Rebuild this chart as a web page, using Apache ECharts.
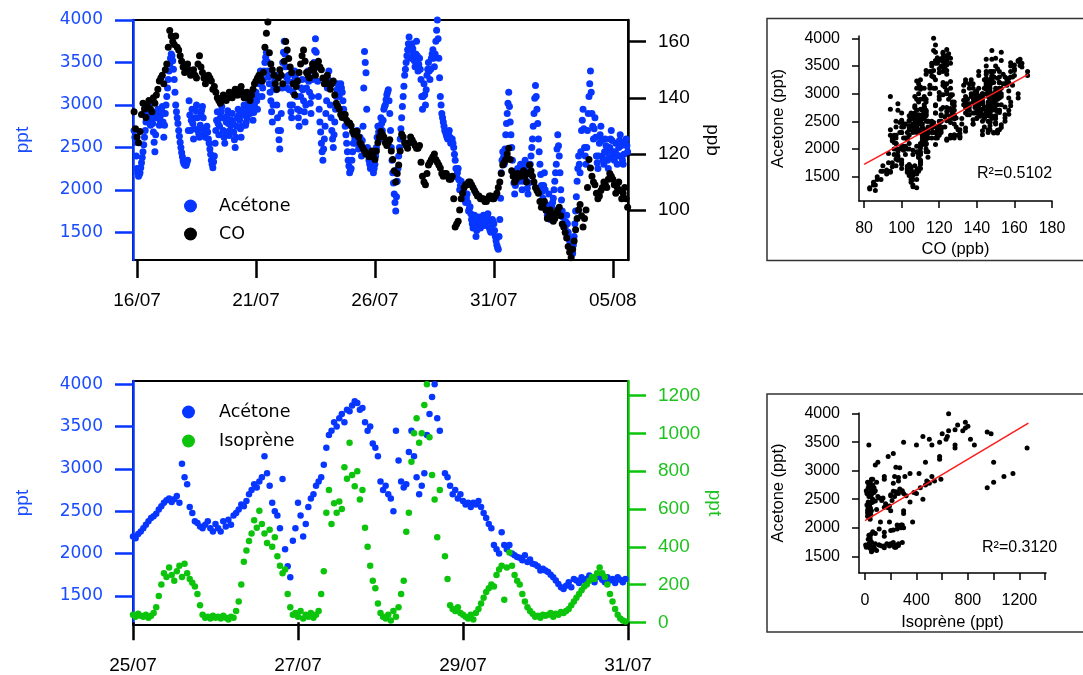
<!DOCTYPE html>
<html>
<head>
<meta charset="utf-8">
<script src="https://cdn.jsdelivr.net/npm/echarts@6/dist/echarts.min.js"></script>
<style>
html, body { margin: 0; padding: 0; background: #fff; }
#chart { width: 1083px; height: 675px; }
</style>
</head>
<body>
<div id="chart"></div>
<script>
// time axis in "day of July" (32 = 01/08 ...)
var topTickDays = [16, 21, 26, 31, 36];
var topTickLabels = ['16/07', '21/07', '26/07', '31/07', '05/08'];
var bottomTickDays = [25, 27, 29, 31];
var bottomTickLabels = ['25/07', '27/07', '29/07', '31/07'];
var acetoneTicks = [1500, 2000, 2500, 3000, 3500, 4000];
var coTicks = [100, 120, 140, 160];
var isopreneTicks = [0, 200, 400, 600, 800, 1000, 1200];
var scatterCoTicks = [80, 100, 120, 140, 160, 180];
var scatterIsoTicks = [0, 200, 400, 600, 800, 1000, 1200, 1400];
var scatterIsoLabels = [0, 400, 800, 1200];

// rows: [start time, values...], one value every step
var stepTop = 1 / 16;
var acetoneTop = [
  [15.875, 2700, 2560],
  [16, 2250, 2160, 2200, 2320, 2450, 2620, 2800, 2950, 3020, 2760, 2900, 2680, 2450, 2850, 2950, 2760],
  [17, 2880, 2980, 2620, 2900, 3100, 3300, 3480, 3600, 3520, 3300, 3000, 2850, 2700, 2560, 2440, 2340],
  [18, 2300, 2290, 2350, 3050, 2700, 2950, 2600, 2850, 3000, 2700, 2620, 2900, 2980, 2720, 2620, 2750],
  [19, 2600, 2480, 2350, 2260, 2400, 2700, 2920, 2650, 2850, 2980, 2700, 2550, 2800, 2930, 2640, 2760],
  [20, 2900, 2680, 2500, 2750, 2950, 2820, 2620, 2880, 3000, 2760, 2850, 3050, 2900, 3100, 2820, 3000],
  [21, 3150, 2950, 3250, 3400, 3100, 3300, 3500, 3620, 3400, 3250, 3050, 2800, 3200, 3350, 3000, 2700],
  [22, 2480, 2900, 3500, 3750, 3450, 3200, 3350, 3000, 2850, 3150, 3400, 3250, 2950, 2750, 3100, 3300],
  [23, 3050, 2800, 3200, 3400, 3150, 2900, 3300, 3500, 3780, 3450, 3100, 2800, 2550, 2350, 2600, 2900],
  [24, 3200, 3400, 3000, 2700, 2500, 2800, 3100, 3250, 3100, 3250, 3150, 2950, 2750, 2550, 2350, 2200],
  [25, 2250, 2450, 2650, 2550, 2700, 2480, 2620, 2400, 2750, 3630, 3380, 2500, 2350, 2250, 2400, 2200],
  [26, 2300, 2500, 2750, 2600, 2850, 2700, 2950, 3000, 3120, 3180, 2900, 2500, 2200, 1950, 1750, 2100],
  [27, 2400, 2600, 2850, 3100, 3350, 3500, 3650, 3800, 3550, 3720, 3600, 3450, 3750, 3400, 3550, 3300],
  [28, 2950, 3250, 3000, 3350, 3500, 3300, 3550, 3650, 3450, 3750, 4000, 3550, 3100, 2900, 2800, 2700],
  [29, 2650, 2600, 2700, 2550, 2600, 2500, 2350, 2150, 2250, 2000, 2100, 1900, 2050, 1850, 1950, 1750],
  [30, 1800, 1650, 1550, 1700, 1450, 1600, 1680, 1550, 1620, 1700, 1580, 1650, 1720, 1550, 1500, 1650],
  [31, 1600, 1450, 1350, 1300, 1650, 2200, 2450, 2300, 2650, 2900, 3150, 2800, 2500, 2200, 1950, 2150],
  [32, 2250, 2100, 2300, 2000, 2200, 2350, 2100, 1950, 2200, 2400, 2600, 2900, 3230, 2950, 2600, 2300],
  [33, 2050, 1900, 2200, 1800, 1700, 1950, 1650, 1800, 1900, 2100, 2300, 2650, 2400, 2000, 1750, 1600],
  [34, 1550, 1700, 1500, 1400, 1300, 1250, 1450, 1750, 2100, 2400, 2200, 2700, 2950, 2500, 2300, 2700],
  [35, 3100, 3400, 2900, 2600, 2850, 2400, 2250, 2550, 2750, 2400, 2300, 2600, 2450, 2250, 2500, 2700],
  [36, 2450, 2350, 2550, 2300, 2500, 2650, 2400, 2300, 2550, 2600, 2450]
];
// the same record, samples half a step later
var acetoneTopMid = [
  [15.90625, 2620, 2400],
  [16.03125, 2200, 2180, 2260, 2380, 2530, 2700, 2880, 3000, 2880, 2820, 2780, 2560, 2650, 2900, 2850, 2820],
  [17.03125, 2930, 2800, 2760, 3000, 3200, 3400, 3550, 3580, 3420, 3150, 2920, 2780, 2630, 2500, 2390, 2310],
  [18.03125, 2290, 2320, 2700, 2880, 2820, 2780, 2720, 2930, 2850, 2660, 2760, 2940, 2850, 2670, 2680, 2680],
  [19.03125, 2550, 2420, 2300, 2330, 2550, 2820, 2780, 2750, 2920, 2850, 2620, 2680, 2870, 2780, 2700, 2820],
  [20.03125, 2790, 2590, 2620, 2850, 2880, 2720, 2750, 2940, 2880, 2800, 2950, 2980, 3000, 2960, 2910, 3080],
  [21.03125, 3050, 3100, 3330, 3250, 3200, 3400, 3560, 3510, 3330, 3150, 2920, 3000, 3280, 3180, 2850, 2590],
  [22.03125, 2700, 3200, 3620, 3600, 3330, 3280, 3180, 2920, 3000, 3280, 3330, 3100, 2850, 2930, 3200, 3180],
  [23.03125, 2920, 3000, 3300, 3280, 3020, 3100, 3400, 3640, 3620, 3280, 2950, 2680, 2450, 2480, 2750, 3050],
  [24.03125, 3300, 3200, 2850, 2600, 2650, 2950, 3180, 3180, 3180, 3200, 3050, 2850, 2650, 2450, 2280, 2230],
  [25.03125, 2350, 2550, 2600, 2620, 2590, 2550, 2510, 2580, 3200, 3500, 2950, 2420, 2300, 2330, 2300, 2250],
  [26.03125, 2400, 2620, 2680, 2730, 2780, 2820, 2980, 3060, 3150, 3050, 2700, 2350, 2080, 1850, 1920, 2250],
  [27.03125, 2500, 2720, 2980, 3220, 3420, 3580, 3720, 3680, 3640, 3660, 3520, 3600, 3580, 3480, 3420, 3100],
  [28.03125, 3100, 3120, 3180, 3420, 3400, 3420, 3600, 3550, 3600, 3880, 3780, 3320, 3000, 2850, 2750, 2680],
  [29.03125, 2620, 2650, 2620, 2580, 2550, 2420, 2250, 2200, 2120, 2050, 2000, 1980, 1950, 1900, 1850, 1780],
  [30.03125, 1720, 1600, 1620, 1580, 1520, 1640, 1620, 1590, 1660, 1640, 1620, 1690, 1640, 1520, 1580, 1620],
  [31.03125, 1520, 1400, 1320, 1450, 1900, 2350, 2380, 2480, 2780, 3020, 2980, 2650, 2350, 2080, 2050, 2200],
  [32.03125, 2180, 2200, 2150, 2100, 2280, 2220, 2020, 2080, 2300, 2500, 2750, 3080, 3100, 2780, 2450, 2180],
  [33.03125, 1980, 2050, 2000, 1750, 1820, 1800, 1720, 1850, 2000, 2200, 2480, 2520, 2200, 1880, 1680, 1580],
  [34.03125, 1620, 1600, 1450, 1350, 1280, 1350, 1600, 1920, 2250, 2300, 2450, 2820, 2720, 2400, 2500, 2900],
  [35.03125, 3250, 3150, 2750, 2720, 2620, 2320, 2400, 2650, 2580, 2350, 2450, 2520, 2350, 2380, 2600, 2580],
  [36.03125, 2400, 2450, 2420, 2400, 2580, 2520, 2350, 2420, 2580, 2520]
];

var stepCO = 1 / 8;
var coTop = [
  [15.875, 135],
  [16, 126, 128, 138, 133, 139, 135, 138, 143],
  [17, 147, 145, 152, 164, 160, 162, 157, 153],
  [18, 149, 152, 148, 150, 147, 155, 149, 145],
  [19, 148, 146, 144, 140, 138, 141, 139, 142],
  [20, 140, 143, 141, 144, 140, 142, 139, 143],
  [21, 146, 148, 146, 158, 167, 152, 148, 143],
  [22, 150, 145, 160, 154, 149, 141, 146, 152],
  [23, 157, 149, 147, 152, 148, 153, 150, 145],
  [24, 148, 143, 146, 138, 136, 133, 134, 131],
  [25, 130, 127, 128, 124, 122, 120, 119, 121],
  [26, 118, 124, 128, 126, 123, 125, 118, 110],
  [27, 116, 127, 124, 122, 126, 124, 122, 123],
  [28, 112, 109, 116, 118, 120, 117, 115, 112],
  [29, 113, 111, 112, 94, 96, 104, 108, 109],
  [30, 110, 108, 106, 105, 104, 103, 104, 105],
  [31, 104, 106, 110, 116, 118, 122, 114, 110],
  [32, 113, 112, 114, 110, 116, 112, 108, 106],
  [33, 101, 103, 97, 100, 96, 99, 101, 95],
  [34, 92, 87, 83, 89, 97, 102, 94, 100],
  [35, 118, 112, 109, 104, 107, 110, 108, 113],
  [36, 111, 106, 110, 104, 108, 101]
];
var coTopMid = [
  [15.9375, 129],
  [16.0625, 124, 134, 136, 137, 136, 140, 141, 146],
  [17.0625, 148, 150, 158, 162, 159, 158, 155, 151],
  [18.0625, 151, 150, 149, 148, 152, 151, 147, 147],
  [19.0625, 147, 143, 142, 139, 139, 140, 140, 141],
  [20.0625, 142, 141, 143, 142, 141, 140, 141, 145],
  [21.0625, 147, 147, 149, 163, 156, 150, 145, 147],
  [22.0625, 148, 153, 157, 151, 145, 144, 149, 155],
  [23.0625, 153, 148, 150, 150, 151, 151, 147, 147],
  [24.0625, 145, 145, 141, 137, 134, 134, 132, 131],
  [25.0625, 128, 128, 126, 123, 121, 120, 120, 119],
  [26.0625, 121, 126, 127, 124, 124, 121, 114, 113],
  [27.0625, 121, 126, 123, 124, 125, 123, 122, 117],
  [28.0625, 110, 113, 117, 119, 118, 116, 113, 113],
  [29.0625, 112, 111, 104, 95, 100, 106, 109, 110],
  [30.0625, 109, 107, 105, 104, 104, 103, 105, 104],
  [31.0625, 105, 108, 113, 117, 120, 118, 112, 111],
  [32.0625, 112, 113, 112, 113, 114, 110, 107, 103],
  [33.0625, 102, 100, 98, 98, 97, 100, 98, 94],
  [34.0625, 90, 85, 86, 93, 100, 98, 97, 108],
  [35.0625, 115, 110, 106, 105, 108, 109, 111, 112],
  [36.0625, 109, 108, 107, 106, 104]
];

var stepBottom = 1 / 32;
var acetoneBottom = [
  [25, 2200, 2180, 2230, 2260, 2300, 2340, 2380, 2420, 2440, 2470, 2520, 2560, 2600, 2630, 2650, 2610,
       2640, 2680, 2600, 3060, 2900, 2820, 2550, 2480, 2380, 2360, 2320, 2300, 2340, 2380, 2300, 2260],
  [26, 2350, 2300, 2260, 2380, 2320, 2400, 2340, 2450, 2480, 2520, 2580, 2560, 2620, 2700, 2750, 2820,
       2780, 2850, 2900, 3150, 2950, 2800, 2600, 2500, 2450, 2300, 2880, 2050, 1850, 1720, 2150, 2300],
  [27, 2600, 2450, 2200, 2350, 2550, 2650, 2700, 2800, 2850, 2900, 3050, 3250, 3400, 3450, 3550, 3500,
       3600, 3650, 3550, 3700, 3680, 3750, 3800, 3780, 3700, 3720, 3550, 3450, 3500, 3300, 3250, 3150],
  [28, 2850, 2750, 2800, 2700, 2650, 2500, 3450, 3100, 2850, 2780, 2820, 3200, 3450, 3150, 2900, 2700,
       2800, 2950, 3400, 3650, 3850, 4000, 3600, 3450, null, 2950, 2900, 2800, 2700, 2750, 2650, 2700],
  [29, 2620, 2580, 2600, 2550, 2600, 2580, 2620, 2550, 2480, 2420, 2350, 2300, 2100, 2050, 2000, 2250,
       2100, 2050, 2100, 2000, 1980, 1960, 1950, 1920, 1980, 1900, 1930, 1880, 1870, 1850, 1800, 1820],
  [30, 1800, 1780, 1750, 1720, 1680, 1640, 1600, 1580, 1620, 1660, 1600, 1700, 1680, 1650, 1720, 1680,
       1700, 1740, 1690, 1660, 1720, 1740, 1690, 1660, 1720, 1680, 1700, 1650, 1720, 1690, 1660, 1700]
];
var isopreneBottom = [
  [25, 40, 30, 45, 35, 30, 40, 25, 35, 50, 80, 140, 200, 260, 240, 290, 250,
       220, 270, 300, 240, 310, 260, 230, 210, 190, 150, 90, 40, 25, 30, 20, 35],
  [26, 25, 30, 20, 35, 25, 15, 30, 25, 60, 110, 200, 320, 380, 430, 470, 540,
       500, 590, 520, 470, 420, 490, 400, 450, 350, 300, 260, 280, 150, 80, 40, 50],
  [27, 30, 60, 20, 40, 30, 50, 25, 40, 60, 150, 270, 580, 700, 520, 630, 580,
       640, 600, 820, 760, 950, 780, 720, 800, 650, 700, 500, 400, 300, 220, 180, 100],
  [28, 50, 30, 20, 40, 10, 60, 30, 80, 150, 220, 480, 580, 850, 1000, 1080, 950,
       1000, 1150, 1260, 980, 780, 650, 450, 700, null, 350, 230, 90, 70, 60, 80, 50],
  [29, 40, 30, 20, 40, 15, 50, 70, 100, 130, 160, 180, 200, 190, 250, 280, 300,
       120, 290, 370, 300, 250, 220, 200, 150, 110, 80, 60, 45, 30, 35, 25, 40],
  [30, 35, 40, 50, 30, 45, 40, 55, 50, 60, 70, 90, 110, 130, 150, 170, 190,
       200, 220, 240, 230, 260, 290, 260, 240, 200, 150, 110, 70, 40, 20, 10, 5]
];

// regression lines
var fitCo = [[80, 1723], [167.3, 3350]];
var fitIso = [[0, 2125], [1270, 3836]];

function expand(rows, step) {
  var pts = [];
  rows.forEach(function (row) {
    for (var j = 1; j < row.length; j++) {
      if (row[j] != null) pts.push([row[0] + (j - 1) * step, row[j]]);
    }
  });
  return pts;
}

var acTopPts = expand(acetoneTop, stepTop).concat(expand(acetoneTopMid, stepTop));
var coTopPts = expand(coTop, stepCO).concat(expand(coTopMid, stepCO));
var acBotPts = expand(acetoneBottom, stepBottom);
var isoBotPts = expand(isopreneBottom, stepBottom);

// pair the records for the scatter panels
var coByKey = {};
coTopPts.forEach(function (p) { coByKey[Math.round(p[0] * 16)] = p[1]; });
var pairsCo = [];
acTopPts.forEach(function (p) {
  var c = coByKey[Math.floor(p[0] * 16 + 1e-6)];
  if (c != null) pairsCo.push([c, p[1]]);
});
var isoByKey = {};
isoBotPts.forEach(function (p) { isoByKey[Math.round(p[0] * 32)] = p[1]; });
var pairsIso = [];
acBotPts.forEach(function (p) {
  var v = isoByKey[Math.round(p[0] * 32)];
  if (v != null) pairsIso.push([v, p[1]]);
});

var BLUE = '#0636ff';
var BLUE_TXT = '#1a4cff';
var GREEN = '#0cc40c';
var GREEN_TXT = '#1ec21e';
var ARIAL = 'Liberation Sans';
var WIDE = 'DejaVu Sans';

function plain(v) { return String(v); }

function labelOf(days, labels) {
  return function (v) {
    for (var i = 0; i < days.length; i++) if (Math.abs(days[i] - v) < 1e-6) return labels[i];
    return '';
  };
}

function timeAxis(grid, min, max, days, labels) {
  return {
    type: 'value', gridIndex: grid, min: min, max: max,
    axisLine: { show: false },
    splitLine: { show: false },
    axisTick: { customValues: days, length: 18, lineStyle: { color: '#000', width: 2.5 } },
    axisLabel: { customValues: days, formatter: labelOf(days, labels), margin: 31,
      color: '#000', fontFamily: ARIAL, fontSize: 19 }
  };
}

function sideAxis(grid, pos, min, max, ticks, color, txtColor, font, size, name, gap, rot) {
  return {
    type: 'value', gridIndex: grid, position: pos, min: min, max: max,
    splitLine: { show: false },
    axisLine: { show: true, lineStyle: { color: color, width: 2.5 } },
    axisTick: { customValues: ticks, length: 18, lineStyle: { color: color, width: 2.5 } },
    axisLabel: { customValues: ticks, formatter: plain, margin: 30,
      color: txtColor, fontFamily: font, fontSize: size },
    name: name, nameLocation: 'middle', nameGap: gap, nameRotate: rot,
    nameTextStyle: { color: txtColor, fontFamily: ARIAL, fontSize: 19 }
  };
}

function scatterAxis(grid, min, max, ticks, labels, name, gap, isY) {
  var ax = {
    type: 'value', gridIndex: grid, min: min, max: max,
    splitLine: { show: false },
    axisLine: { show: true, onZero: false, lineStyle: { color: '#000', width: 1.5 } },
    axisTick: { customValues: ticks, length: 7, lineStyle: { color: '#000', width: 1.5 } },
    axisLabel: { customValues: labels, formatter: plain, margin: isY ? 19 : 20,
      color: '#000', fontFamily: ARIAL, fontSize: 16 },
    name: name, nameLocation: 'middle', nameGap: gap,
    nameTextStyle: { color: '#000', fontFamily: ARIAL, fontSize: 16.5 }
  };
  if (isY) ax.nameRotate = 90;
  return ax;
}

function dots(name, xi, yi, data, size, color) {
  return { name: name, type: 'scatter', xAxisIndex: xi, yAxisIndex: yi, data: data,
    symbolSize: size, itemStyle: { color: color, opacity: 1 } };
}

var chart = echarts.init(document.getElementById('chart'));
var option = {
  animation: false,
  backgroundColor: '#fff',
  grid: [
    { left: 133, top: 20, width: 495, height: 240, show: true, borderColor: '#000', borderWidth: 2 },
    { left: 133, top: 381, width: 495, height: 245, show: true, borderColor: '#000', borderWidth: 2 },
    { left: 859, top: 36, width: 193, height: 165 },
    { left: 859, top: 413, width: 187, height: 160 }
  ],
  legend: [
    { data: ['Acétone', 'CO'], left: 179, top: 192, orient: 'vertical', icon: 'circle',
      itemWidth: 13, itemHeight: 13, itemGap: 10, selectedMode: false,
      textStyle: { fontFamily: WIDE, fontSize: 17.5, color: '#000', padding: [0, 0, 0, 17] } },
    { data: ['Acétone', 'Isoprène'], left: 177, top: 398, orient: 'vertical', icon: 'circle',
      itemWidth: 13, itemHeight: 13, itemGap: 11, selectedMode: false,
      textStyle: { fontFamily: WIDE, fontSize: 17.5, color: '#000', padding: [0, 0, 0, 19] } }
  ],
  xAxis: [
    timeAxis(0, 15.83, 36.64, topTickDays, topTickLabels),
    timeAxis(1, 25, 31, bottomTickDays, bottomTickLabels),
    scatterAxis(2, 77.3, 180, scatterCoTicks, scatterCoTicks, 'CO (ppb)', 40, false),
    scatterAxis(3, -46.7, 1407, scatterIsoTicks, scatterIsoLabels, 'Isoprène (ppt)', 41, false)
  ],
  yAxis: [
    sideAxis(0, 'left', 1174, 4000, acetoneTicks, BLUE, BLUE_TXT, WIDE, 17, 'ppt', 101, 90),
    sideAxis(0, 'right', 82.2, 167.7, coTicks, '#000', '#000', ARIAL, 19, 'ppb', 75, -90),
    sideAxis(1, 'left', 1155, 4039, acetoneTicks, BLUE, BLUE_TXT, WIDE, 17, 'ppt', 101, 90),
    sideAxis(1, 'right', -14, 1277, isopreneTicks, GREEN, GREEN_TXT, ARIAL, 19, 'ppt', 77, -90),
    scatterAxis(2, 1061, 4042, acetoneTicks, acetoneTicks, 'Acetone (ppt)', 72, true),
    scatterAxis(3, 1207, 4012, acetoneTicks, acetoneTicks, 'Acetone (ppt)', 72, true)
  ],
  series: [
    dots('Acétone', 0, 0, acTopPts, 7, BLUE),
    dots('CO', 0, 1, coTopPts, 7, '#000'),
    dots('Acétone', 1, 2, acBotPts, 6.5, BLUE),
    dots('Isoprène', 1, 3, isoBotPts, 6.5, GREEN),
    dots('co-pairs', 2, 4, pairsCo, 5, '#000'),
    { name: 'co-fit', type: 'line', xAxisIndex: 2, yAxisIndex: 4, data: fitCo,
      symbol: 'none', lineStyle: { color: '#ff1a1a', width: 1.5 } },
    dots('iso-pairs', 3, 5, pairsIso, 5, '#000'),
    { name: 'iso-fit', type: 'line', xAxisIndex: 3, yAxisIndex: 5, data: fitIso,
      symbol: 'none', lineStyle: { color: '#ff1a1a', width: 1.5 } }
  ],
  graphic: [
    { type: 'rect', shape: { x: 767, y: 18.5, width: 330, height: 242 },
      style: { fill: 'none', stroke: '#333', lineWidth: 1.5 } },
    { type: 'rect', shape: { x: 767, y: 394, width: 330, height: 238 },
      style: { fill: 'none', stroke: '#333', lineWidth: 1.5 } },
    { type: 'text', x: 977, y: 174, style: { text: 'R²=0.5102', fill: '#000',
      font: '16px "Liberation Sans"', verticalAlign: 'middle' } },
    { type: 'text', x: 982, y: 548, style: { text: 'R²=0.3120', fill: '#000',
      font: '16px "Liberation Sans"', verticalAlign: 'middle' } }
  ]
};
chart.setOption(option);
</script>
</body>
</html>
